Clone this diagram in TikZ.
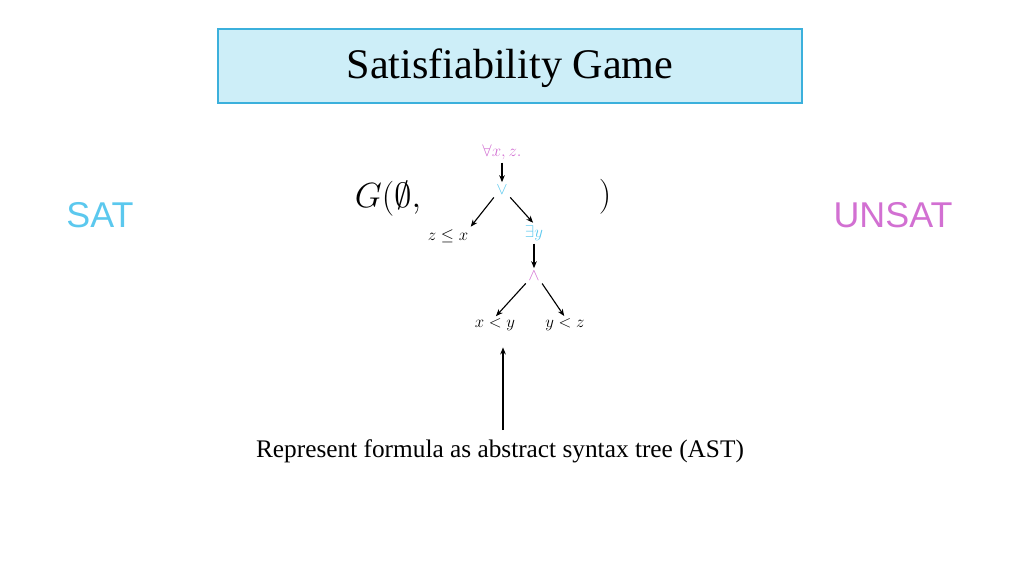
\documentclass[tikz,border=0pt]{standalone}
\usepackage{amsmath}
\usepackage{amssymb}
\usepackage{fontspec}
\setmainfont{Liberation Serif}
\setsansfont{Liberation Sans}
\usetikzlibrary{arrows.meta}
\definecolor{skyblue}{HTML}{5BC8EE}
\definecolor{orchid}{HTML}{D270D2}
\definecolor{titlefill}{HTML}{CDEEF8}
\definecolor{titleline}{HTML}{3BB0DC}

\begin{document}
\begin{tikzpicture}
	[%
	x=0.025cm, y=-0.025cm,
	term/.style ={inner sep=1pt, font=\fontsize{13}{15}\selectfont},%
	edge/.style ={-{Stealth[length=5pt,width=4pt]}, thick, shorten <=1pt, shorten >=1pt},%
	]
	\useasboundingbox (0,0) rectangle (1024,576);

	% title
	\filldraw [draw=titleline, fill=titlefill, thick] (218,29) rectangle (802,103);
	\node (title) at (510,68) {\fontsize{30}{34}\selectfont Satisfiability Game};

	% sides
	\node (sat)   at (100,215) {\sffamily\fontsize{25.5}{30}\selectfont\color{skyblue}SAT};
	\node (unsat) at (893,215) {\sffamily\fontsize{25.5}{30}\selectfont\color{orchid}UNSAT};
	\node (gopen)  at (388,199) {\fontsize{24}{28}\selectfont $G(\emptyset,$};
	\node (gclose) at (605,197) {\fontsize{24}{28}\selectfont $)$};

	% tree
	\node (all) at (502,152) [term] {\color{orchid}$\forall x, z.$};
	\node (or)  at (502,190) [term] {\color{skyblue}$\vee$};
	\node (le)  at (448,236) [term] {$z \leq x$};
	\node (ex)  at (534,233) [term] {\color{skyblue}$\exists y$};
	\node (and) at (534,276) [term] {\color{orchid}$\wedge$};
	\node (lt1) at (495,325) [term] {$x < y$};
	\node (lt2) at (565,325) [term] {$y < z$};

	\draw [edge] (all) to (or);
	\draw [edge] (or.south west) to (le.north east);
	\draw [edge] (or.south east) to (ex.north);
	\draw [edge] (ex) to (and);
	\draw [edge] (and.south west) to (lt1.north);
	\draw [edge] (and.south east) to (lt2.north);

	% note
	\node (note) at (500,451) {\fontsize{18}{22}\selectfont Represent formula as abstract syntax tree (AST)};
	\coordinate (tip) at (503,346);
	\coordinate (foot) at (503,430);
	\draw [edge, shorten <=0pt] (foot) -- (tip);
\end{tikzpicture}
\end{document}
